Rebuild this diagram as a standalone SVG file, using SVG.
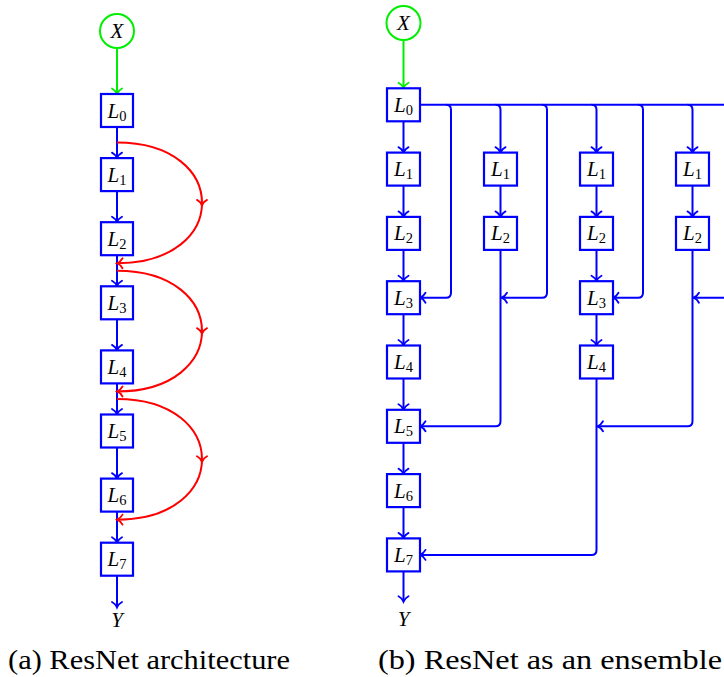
<svg xmlns="http://www.w3.org/2000/svg" width="724" height="677" viewBox="0 0 724 677">
<defs>
<style>
.b{fill:none;stroke:#0000ff;stroke-width:2;}
.r{fill:none;stroke:#ff0000;stroke-width:2;}
.g{fill:none;stroke:#00ee00;stroke-width:2;}
.box{fill:#ffffff;stroke:#0000ff;stroke-width:2.2;}
.circ{fill:#ffffff;stroke:#00ee00;stroke-width:2;}
.m{font-family:"Liberation Serif","Times New Roman",serif;font-style:italic;font-size:21px;fill:#000;text-anchor:middle;}
.s{font-style:normal;font-size:14.5px;}
.cap{font-family:"Liberation Serif","Times New Roman",serif;font-size:28px;fill:#000;}
</style>
<marker id="ab" viewBox="-7 -7 9 14" refX="0" refY="0" markerWidth="9" markerHeight="14" markerUnits="userSpaceOnUse" orient="auto">
<path d="M-5.5,-5 C-4,-2.2 -1.5,-0.6 0,0 C-1.5,0.6 -4,2.2 -5.5,5" fill="none" stroke="#0000ff" stroke-width="1.8" stroke-linecap="round"/>
</marker>
<marker id="ar" viewBox="-7 -7 9 14" refX="0" refY="0" markerWidth="9" markerHeight="14" markerUnits="userSpaceOnUse" orient="auto">
<path d="M-5.5,-5 C-4,-2.2 -1.5,-0.6 0,0 C-1.5,0.6 -4,2.2 -5.5,5" fill="none" stroke="#ff0000" stroke-width="1.8" stroke-linecap="round"/>
</marker>
<marker id="arm" viewBox="-7 -7 9 14" refX="-2.5" refY="0" markerWidth="9" markerHeight="14" markerUnits="userSpaceOnUse" orient="auto">
<path d="M-5.5,-5 C-4,-2.2 -1.5,-0.6 0,0 C-1.5,0.6 -4,2.2 -5.5,5" fill="none" stroke="#ff0000" stroke-width="1.8" stroke-linecap="round"/>
</marker>
<marker id="ag" viewBox="-7 -7 9 14" refX="0" refY="0" markerWidth="9" markerHeight="14" markerUnits="userSpaceOnUse" orient="auto">
<path d="M-5.5,-5 C-4,-2.2 -1.5,-0.6 0,0 C-1.5,0.6 -4,2.2 -5.5,5" fill="none" stroke="#00ee00" stroke-width="1.8" stroke-linecap="round"/>
</marker>
</defs>
<rect width="724" height="677" fill="#ffffff"/>

<g id="connectors">
<path class="g" d="M117,48 L117,94" marker-end="url(#ag)"/>
<path class="b" d="M117,127 L117,158.1" marker-end="url(#ab)"/>
<path class="b" d="M117,191.1 L117,222.2" marker-end="url(#ab)"/>
<path class="b" d="M117,255.2 L117,286.3" marker-end="url(#ab)"/>
<path class="b" d="M117,319.3 L117,350.4" marker-end="url(#ab)"/>
<path class="b" d="M117,383.4 L117,414.5" marker-end="url(#ab)"/>
<path class="b" d="M117,447.5 L117,478.6" marker-end="url(#ab)"/>
<path class="b" d="M117,511.6 L117,542.7" marker-end="url(#ab)"/>
<path class="b" d="M117,575.7 L117,607.5" marker-end="url(#ab)"/>
<path class="r" d="M117,142.55 C173.65,142.55 202,172.7 202,202.9 C202,233.1 173.65,263.25 117,263.25" marker-mid="url(#arm)" marker-end="url(#ar)"/>
<path class="r" d="M117,270.75 C173.65,270.75 202,300.9 202,331.1 C202,361.3 173.65,391.45 117,391.45" marker-mid="url(#arm)" marker-end="url(#ar)"/>
<path class="r" d="M117,398.95 C173.65,398.95 202,429.1 202,459.3 C202,489.5 173.65,519.65 117,519.65" marker-mid="url(#arm)" marker-end="url(#ar)"/>

<path class="g" d="M403.5,40 L403.5,88.3" marker-end="url(#ag)"/>
<path class="b" d="M403.5,121.3 L403.5,152.6" marker-end="url(#ab)"/>
<path class="b" d="M403.5,185.6 L403.5,216.9" marker-end="url(#ab)"/>
<path class="b" d="M403.5,249.9 L403.5,281.2" marker-end="url(#ab)"/>
<path class="b" d="M403.5,314.2 L403.5,345.5" marker-end="url(#ab)"/>
<path class="b" d="M403.5,378.5 L403.5,409.8" marker-end="url(#ab)"/>
<path class="b" d="M403.5,442.8 L403.5,474.1" marker-end="url(#ab)"/>
<path class="b" d="M403.5,507.1 L403.5,538.4" marker-end="url(#ab)"/>
<path class="b" d="M403.5,571.4 L403.5,601.7" marker-end="url(#ab)"/>

<path class="b" d="M420,104.8 L730,104.8"/>
<path class="b" d="M446,104.8 Q451,104.8 451,109.8 L451,292.7 Q451,297.7 446,297.7 L420,297.7" marker-end="url(#ab)"/>
<path class="b" d="M495.5,104.8 Q500.5,104.8 500.5,109.8 L500.5,152.6" marker-end="url(#ab)"/>
<path class="b" d="M500.5,185.6 L500.5,216.9" marker-end="url(#ab)"/>
<path class="b" d="M500.5,249.9 L500.5,421.3 Q500.5,426.3 495.5,426.3 L420,426.3" marker-end="url(#ab)"/>
<path class="b" d="M542,104.8 Q547,104.8 547,109.8 L547,292.7 Q547,297.7 542,297.7 L501.5,297.7" marker-end="url(#ab)"/>
<path class="b" d="M591.5,104.8 Q596.5,104.8 596.5,109.8 L596.5,152.6" marker-end="url(#ab)"/>
<path class="b" d="M596.5,185.6 L596.5,216.9" marker-end="url(#ab)"/>
<path class="b" d="M596.5,249.9 L596.5,281.2" marker-end="url(#ab)"/>
<path class="b" d="M596.5,314.2 L596.5,345.5" marker-end="url(#ab)"/>
<path class="b" d="M596.5,378.5 L596.5,549.9 Q596.5,554.9 591.5,554.9 L420,554.9" marker-end="url(#ab)"/>
<path class="b" d="M638,104.8 Q643,104.8 643,109.8 L643,292.7 Q643,297.7 638,297.7 L613,297.7" marker-end="url(#ab)"/>
<path class="b" d="M687.5,104.8 Q692.5,104.8 692.5,109.8 L692.5,152.6" marker-end="url(#ab)"/>
<path class="b" d="M692.5,185.6 L692.5,216.9" marker-end="url(#ab)"/>
<path class="b" d="M692.5,249.9 L692.5,421.3 Q692.5,426.3 687.5,426.3 L597.5,426.3" marker-end="url(#ab)"/>
<path class="b" d="M734,104.8 Q739,104.8 739,109.8 L739,292.7 Q739,297.7 734,297.7 L693.5,297.7" marker-end="url(#ab)"/>
</g>

<g id="a-X"><circle class="circ" cx="117" cy="31" r="17"/><text class="m" x="117" y="38">X</text></g>
<g id="a-L0"><rect class="box" x="101" y="94" width="32" height="33"/><text class="m" x="117" y="117.5">L<tspan class="s" dy="3">0</tspan></text></g>
<g id="a-L1"><rect class="box" x="101" y="158.1" width="32" height="33"/><text class="m" x="117" y="181.6">L<tspan class="s" dy="3">1</tspan></text></g>
<g id="a-L2"><rect class="box" x="101" y="222.2" width="32" height="33"/><text class="m" x="117" y="245.7">L<tspan class="s" dy="3">2</tspan></text></g>
<g id="a-L3"><rect class="box" x="101" y="286.3" width="32" height="33"/><text class="m" x="117" y="309.8">L<tspan class="s" dy="3">3</tspan></text></g>
<g id="a-L4"><rect class="box" x="101" y="350.4" width="32" height="33"/><text class="m" x="117" y="373.9">L<tspan class="s" dy="3">4</tspan></text></g>
<g id="a-L5"><rect class="box" x="101" y="414.5" width="32" height="33"/><text class="m" x="117" y="438">L<tspan class="s" dy="3">5</tspan></text></g>
<g id="a-L6"><rect class="box" x="101" y="478.6" width="32" height="33"/><text class="m" x="117" y="502.1">L<tspan class="s" dy="3">6</tspan></text></g>
<g id="a-L7"><rect class="box" x="101" y="542.7" width="32" height="33"/><text class="m" x="117" y="566.2">L<tspan class="s" dy="3">7</tspan></text></g>
<g id="a-Y"><text class="m" x="117" y="627">Y</text></g>

<g id="b-X"><circle class="circ" cx="403.5" cy="23" r="17"/><text class="m" x="403.5" y="30">X</text></g>
<g id="b-L0"><rect class="box" x="387" y="88.3" width="33" height="33"/><text class="m" x="403.5" y="111.8">L<tspan class="s" dy="3">0</tspan></text></g>
<g id="b-L1"><rect class="box" x="387" y="152.6" width="33" height="33"/><text class="m" x="403.5" y="176.1">L<tspan class="s" dy="3">1</tspan></text></g>
<g id="b-L2"><rect class="box" x="387" y="216.9" width="33" height="33"/><text class="m" x="403.5" y="240.4">L<tspan class="s" dy="3">2</tspan></text></g>
<g id="b-L3"><rect class="box" x="387" y="281.2" width="33" height="33"/><text class="m" x="403.5" y="304.7">L<tspan class="s" dy="3">3</tspan></text></g>
<g id="b-L4"><rect class="box" x="387" y="345.5" width="33" height="33"/><text class="m" x="403.5" y="369">L<tspan class="s" dy="3">4</tspan></text></g>
<g id="b-L5"><rect class="box" x="387" y="409.8" width="33" height="33"/><text class="m" x="403.5" y="433.3">L<tspan class="s" dy="3">5</tspan></text></g>
<g id="b-L6"><rect class="box" x="387" y="474.1" width="33" height="33"/><text class="m" x="403.5" y="497.6">L<tspan class="s" dy="3">6</tspan></text></g>
<g id="b-L7"><rect class="box" x="387" y="538.4" width="33" height="33"/><text class="m" x="403.5" y="561.9">L<tspan class="s" dy="3">7</tspan></text></g>
<g id="b-Y"><text class="m" x="403.5" y="625.5">Y</text></g>

<g id="b2-L1"><rect class="box" x="484" y="152.6" width="33" height="33"/><text class="m" x="500.5" y="176.1">L<tspan class="s" dy="3">1</tspan></text></g>
<g id="b2-L2"><rect class="box" x="484" y="216.9" width="33" height="33"/><text class="m" x="500.5" y="240.4">L<tspan class="s" dy="3">2</tspan></text></g>

<g id="b3-L1"><rect class="box" x="580" y="152.6" width="33" height="33"/><text class="m" x="596.5" y="176.1">L<tspan class="s" dy="3">1</tspan></text></g>
<g id="b3-L2"><rect class="box" x="580" y="216.9" width="33" height="33"/><text class="m" x="596.5" y="240.4">L<tspan class="s" dy="3">2</tspan></text></g>
<g id="b3-L3"><rect class="box" x="580" y="281.2" width="33" height="33"/><text class="m" x="596.5" y="304.7">L<tspan class="s" dy="3">3</tspan></text></g>
<g id="b3-L4"><rect class="box" x="580" y="345.5" width="33" height="33"/><text class="m" x="596.5" y="369">L<tspan class="s" dy="3">4</tspan></text></g>

<g id="b4-L1"><rect class="box" x="676" y="152.6" width="33" height="33"/><text class="m" x="692.5" y="176.1">L<tspan class="s" dy="3">1</tspan></text></g>
<g id="b4-L2"><rect class="box" x="676" y="216.9" width="33" height="33"/><text class="m" x="692.5" y="240.4">L<tspan class="s" dy="3">2</tspan></text></g>

<g id="captions">
<text class="cap" x="8" y="669" textLength="282" lengthAdjust="spacingAndGlyphs">(a) ResNet architecture</text>
<text class="cap" x="378" y="669" textLength="344" lengthAdjust="spacingAndGlyphs">(b) ResNet as an ensemble</text>
</g>
</svg>
